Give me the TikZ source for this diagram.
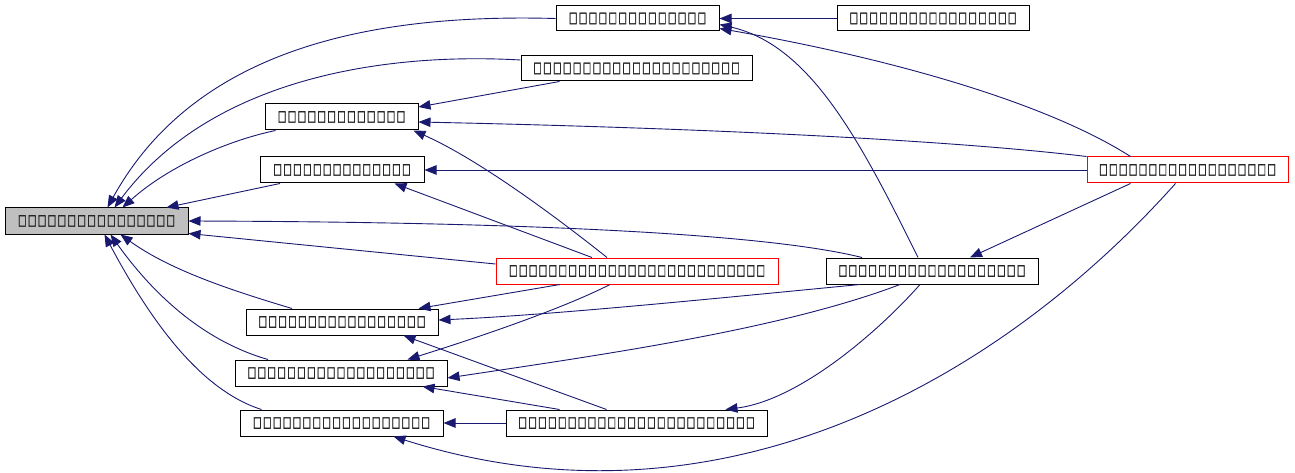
\documentclass[tikz,border=0pt]{standalone}
\usepackage{fontspec}
\newfontfamily\dvfont{DejaVu Sans}[FakeBold=2.5]
\usetikzlibrary{arrows.meta}
\definecolor{edgeblue}{RGB}{25,25,112}
\definecolor{nodegray}{RGB}{191,191,191}
\newcount\tofucnt
\newcommand\tofuglyph{\makebox[9.9pt]{\resizebox*{8.3pt}{11.5pt}{□}}}
\newcommand\tofu[1]{\tofucnt=0 \loop\ifnum\tofucnt<#1 \tofuglyph\advance\tofucnt by 1 \repeat}
\tikzset{
  box/.style={draw=black, line width=1pt, fill=white, inner sep=0pt, minimum height=26pt,
    font=\dvfont\fontsize{12}{14}\selectfont, text=black!85},
  redbox/.style={box, draw=red},
  graybox/.style={box, fill=nodegray},
  edge/.style={draw=edgeblue, line width=0.9pt, -{Triangle[length=12pt,width=9.5pt]}}
}
\begin{document}
\begin{tikzpicture}[x=1pt,y=-1pt]
\useasboundingbox (0,0) rectangle (1295,473);
\node[graybox, minimum width=183pt] (n1) at (96.5,221) {\tofu{16}};
\node[box, minimum width=163pt, minimum height=25pt] (n2) at (637.5,18.5) {\tofu{14}};
\node[box, minimum width=192pt, minimum height=25pt] (n3) at (933,18.5) {\tofu{17}};
\node[box, minimum width=231pt, minimum height=25pt] (n4) at (636.5,68.5) {\tofu{21}};
\node[box, minimum width=153pt] (n5) at (341.5,117) {\tofu{13}};
\node[box, minimum width=164pt] (n6) at (342,170) {\tofu{14}};
\node[redbox, minimum width=201pt] (n7) at (1187.5,170) {\tofu{18}};
\node[redbox, minimum width=282pt] (n8) at (637,271) {\tofu{26}};
\node[box, minimum width=212pt] (n9) at (932,271) {\tofu{19}};
\node[box, minimum width=192pt] (n10) at (342,322) {\tofu{17}};
\node[box, minimum width=212pt] (n11) at (341,373) {\tofu{19}};
\node[box, minimum width=203pt] (n12) at (341.5,423) {\tofu{18}};
\node[box, minimum width=261pt] (n13) at (636.5,423) {\tofu{24}};
% edges into n1
\draw[edge] (n2.west) .. controls (390,14) and (200,40) .. ([xshift=11pt]n1.north);
\draw[edge] ([yshift=8.5pt]n4.west) .. controls (380,52) and (210,80) .. ([xshift=18pt]n1.north);
\draw[edge] ([xshift=-66pt]n5.south) .. controls (230,140) and (170,165) .. ([xshift=26pt]n1.north);
\draw[edge] ([xshift=-62pt]n6.south) -- ([xshift=70pt]n1.north);
\draw[edge] ([xshift=-70pt]n9.north) .. controls (760,232) and (500,222) .. (n1.east);
\draw[edge] ([yshift=7pt]n8.west) -- ([yshift=1pt]n1.south east);
\draw[edge] ([xshift=-50pt]n10.north) .. controls (230,290) and (170,270) .. ([xshift=24pt]n1.south);
\draw[edge] ([xshift=-73pt]n11.north) .. controls (200,340) and (150,290) .. ([xshift=14pt]n1.south);
\draw[edge] ([xshift=-80pt]n12.north) .. controls (200,390) and (150,320) .. ([xshift=8pt]n1.south);
% edges into n2
\draw[edge] (n3.west) -- (n2.east);
\draw[edge] ([xshift=-57pt]n7.north) .. controls (1050,105) and (900,60) .. ([yshift=-10pt]n2.east);
\draw[edge] ([xshift=-14pt]n9.north) .. controls (860,140) and (810,45) .. ([yshift=-6pt]n2.east);
% edges into n5
\draw[edge] ([xshift=-77pt]n4.south) -- ([yshift=10pt]n5.east);
\draw[edge] (n7.north west) .. controls (950,140) and (700,128) .. ([yshift=-5pt]n5.east);
\draw[edge] ([xshift=-30pt]n8.north) .. controls (560,220) and (480,160) .. ([xshift=-5pt]n5.south east);
% edges into n6
\draw[edge] (n7.west) -- (n6.east);
\draw[edge] ([xshift=-45pt]n8.north) -- ([xshift=-30pt]n6.south east);
% edge into n9
\draw[edge] ([xshift=-57pt]n7.south) -- ([xshift=38pt]n9.north);
% edges into n10
\draw[edge] ([xshift=-77pt]n8.south) -- ([xshift=-20pt]n10.north east);
\draw[edge] ([xshift=-72pt]n9.south) .. controls (700,300) and (550,315) .. ([yshift=2pt]n10.east);
\draw[edge] ([xshift=-30pt]n13.north) -- ([xshift=-35pt]n10.south east);
% edges into n11
\draw[edge] ([xshift=-27pt]n8.south) .. controls (560,310) and (470,340) .. ([xshift=-40pt]n11.north east);
\draw[edge] ([xshift=-32pt]n9.south) .. controls (780,330) and (600,355) .. ([yshift=-5pt]n11.east);
\draw[edge] ([xshift=-77pt]n13.north) -- ([xshift=-25pt]n11.south east);
% edges into n12
\draw[edge] (n13.west) -- (n12.east);
\draw[edge] ([xshift=-12pt]n7.south) .. controls (1000,380) and (720,540) .. ([xshift=-50pt]n12.south east);
% edge into n13
\draw[edge] ([xshift=-12pt]n9.south) .. controls (880,330) and (800,400) .. ([xshift=-42pt]n13.north east);
\end{tikzpicture}
\end{document}
